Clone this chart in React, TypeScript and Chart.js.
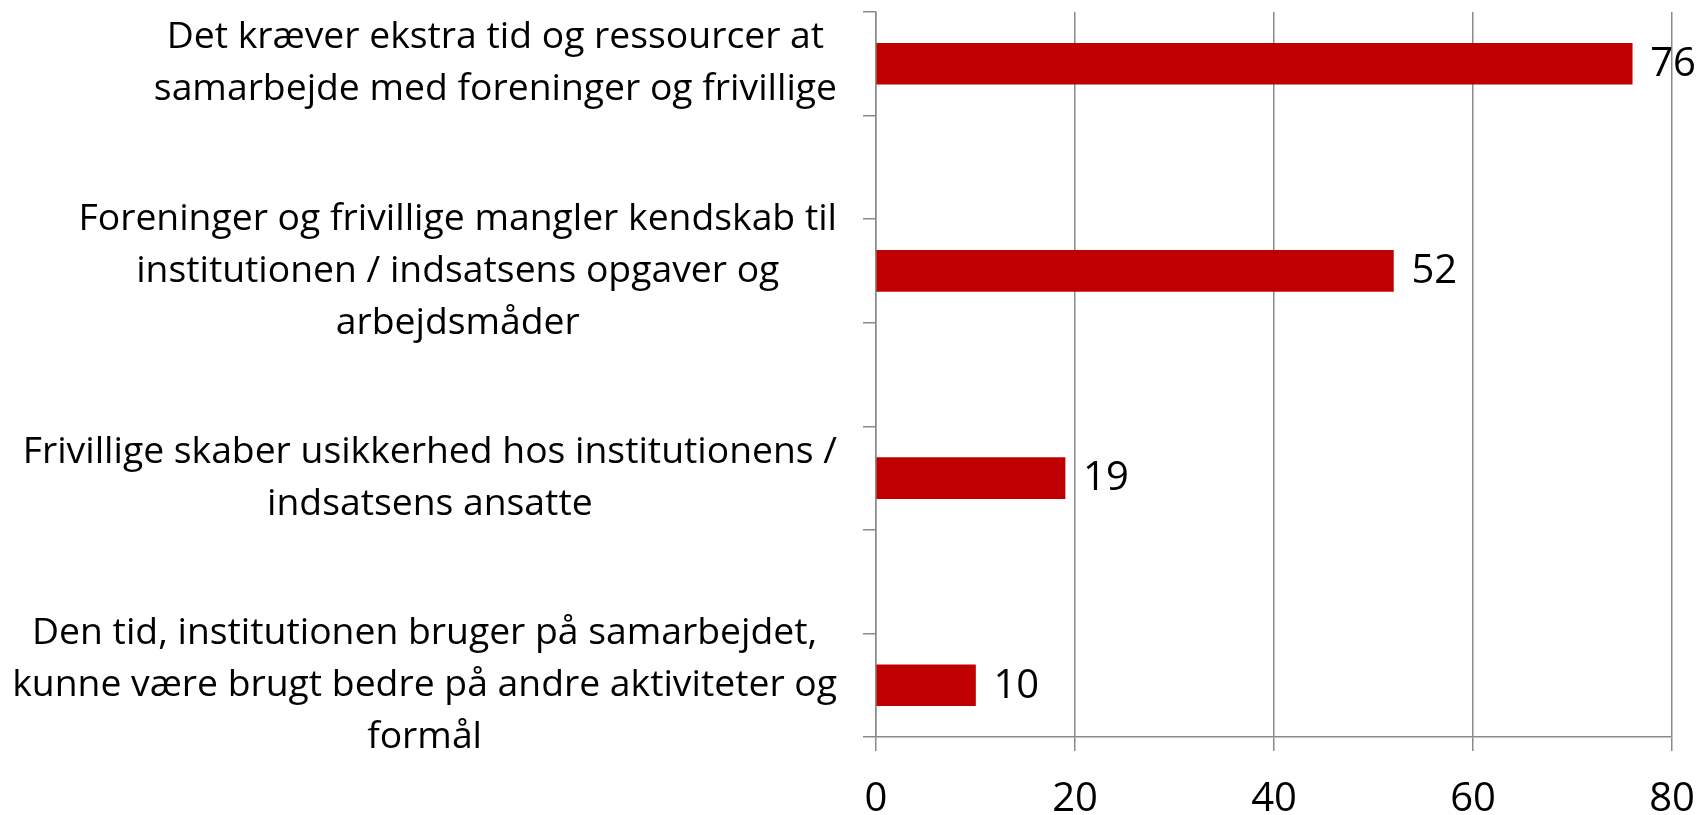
import React, { useEffect, useRef } from "react";
import { Chart, registerables } from "chart.js";

Chart.register(...registerables);

const categories: string[][] = [
  ["Det kræver ekstra tid og ressourcer at", "samarbejde med foreninger og frivillige"],
  [],
  ["Foreninger og frivillige mangler kendskab til", "institutionen / indsatsens opgaver og", "arbejdsmåder"],
  [],
  ["Frivillige skaber usikkerhed hos institutionens /", "indsatsens ansatte"],
  [],
  ["Den tid, institutionen bruger på samarbejdet,", "kunne være brugt bedre på andre aktiviteter og", "formål"],
];
const values: (number | null)[] = [76, null, 52, null, 19, null, 10];
const xTicks: number[] = [0, 20, 40, 60, 80];

const GRAY = "#8a8a8a";
const BAR = "#c00000";
const FONT = "'Open Sans'";

const labelPlugin = {
  id: "customLabels",
  afterDraw(chart: any) {
    const ctx = chart.ctx;
    const yScale = chart.scales.y;
    const meta = chart.getDatasetMeta(0);
    ctx.save();
    ctx.font = `37.3px ${FONT}`;
    ctx.fillStyle = "#000";
    ctx.textAlign = "center";
    ctx.textBaseline = "middle";
    const right = yScale.right - 13 - 26;
    const lh = 52;
    categories.forEach((lines, i) => {
      if (!lines.length) return;
      const cy = yScale.getPixelForValue(i);
      let maxW = 0;
      lines.forEach((l) => (maxW = Math.max(maxW, ctx.measureText(l).width)));
      const cx = right - maxW / 2;
      const y0 = cy - ((lines.length - 1) * lh) / 2;
      lines.forEach((l, k) => ctx.fillText(l, cx, y0 + k * lh));
    });
    ctx.font = `40px ${FONT}`;
    ctx.textAlign = "left";
    meta.data.forEach((el: any, i: number) => {
      const v = values[i];
      if (v == null) return;
      ctx.fillText(String(v), el.x + 18, el.y + 1);
    });
    ctx.restore();
  },
};

export default function App() {
  const ref = useRef<HTMLCanvasElement>(null);
  useEffect(() => {
    document.body.style.margin = "0";
    const chart = new Chart(ref.current!, {
      type: "bar",
      data: {
        labels: categories.map((c) => c.join(" ")),
        datasets: [
          {
            data: values as any,
            backgroundColor: BAR,
            borderWidth: 0,
            barThickness: 41,
          },
        ],
      },
      options: {
        indexAxis: "y",
        animation: false,
        responsive: false,
        devicePixelRatio: 1,
        layout: { padding: { top: 12, right: 28, left: 0, bottom: 0 } },
        plugins: { legend: { display: false }, tooltip: { enabled: false } },
        scales: {
          x: {
            min: 0,
            max: 80,
            afterBuildTicks: (s: any) => {
              s.ticks = xTicks.map((v) => ({ value: v }));
            },
            afterFit: (s: any) => {
              s.height = 78;
              s.paddingLeft = 0;
              s.paddingRight = 0;
            },
            grid: { color: GRAY, lineWidth: 1.5, tickLength: 14, drawTicks: true },
            border: { display: true, color: GRAY, width: 1.5 },
            ticks: {
              color: "#000",
              font: { family: FONT, size: 40 },
              padding: 25,
              maxRotation: 0,
            },
          },
          y: {
            type: "category",
            afterFit: (s: any) => {
              s.width = 876;
              s.paddingTop = 0;
              s.paddingBottom = 0;
            },
            grid: {
              color: GRAY,
              lineWidth: 1.5,
              tickLength: 13,
              drawOnChartArea: false,
              drawTicks: true,
              offset: true,
            },
            border: { display: true, color: GRAY, width: 1.5 },
            ticks: { display: false },
          },
        },
      },
      plugins: [labelPlugin],
    });
    return () => chart.destroy();
  }, []);
  return (
    <div style={{ width: 1700, height: 815 }}>
      <canvas ref={ref} width={1700} height={815} style={{ display: "block" }} />
    </div>
  );
}
